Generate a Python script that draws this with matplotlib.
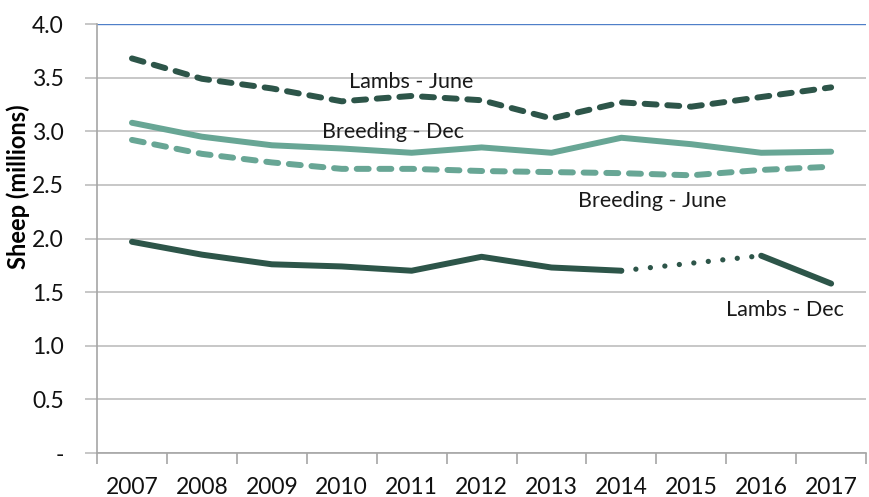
import numpy as np
import matplotlib
matplotlib.use("Agg")
import matplotlib.pyplot as plt
from matplotlib.ticker import FixedLocator, FuncFormatter

plt.rcParams['font.family'] = ['Lato', 'DejaVu Sans']

years = ['2007', '2008', '2009', '2010', '2011', '2012', '2013', '2014', '2015', '2016', '2017']
lambs_june = [3.68, 3.49, 3.40, 3.28, 3.33, 3.29, 3.12, 3.27, 3.23, 3.32, 3.41]
breeding_dec = [3.08, 2.95, 2.87, 2.84, 2.80, 2.85, 2.80, 2.94, 2.88, 2.80, 2.81]
breeding_june = [2.92, 2.79, 2.71, 2.65, 2.65, 2.63, 2.62, 2.61, 2.59, 2.64, 2.67]
lambs_dec = [1.97, 1.85, 1.76, 1.74, 1.70, 1.83, 1.73, 1.70, np.nan, 1.84, 1.58]

dark = '#2D5549'
light = '#68A695'

x = np.arange(len(years))
fig = plt.figure(figsize=(8.7, 4.97), dpi=100)
ax = fig.add_axes([0.1115, 0.0885, 0.884, 0.863])

lw = 4.3
dash = (2.0, 1.8)
ax.plot(x, lambs_june, color=dark, lw=lw, dashes=dash, dash_capstyle='round', dash_joinstyle='round')
ax.plot(x, breeding_dec, color=light, lw=lw, solid_capstyle='round', solid_joinstyle='round')
ax.plot(x, breeding_june, color=light, lw=lw, dashes=dash, dash_capstyle='round', dash_joinstyle='round')
ax.plot(x, lambs_dec, color=dark, lw=lw, solid_capstyle='round', solid_joinstyle='round')

# missing 2015 value for December lambs: bridge the gap with a dotted line
ld = np.array(lambs_dec)
gap = np.where(np.isnan(ld))[0]
for g in gap:
    ax.plot([x[g - 1], x[g + 1]], [ld[g - 1], ld[g + 1]], color=dark, lw=3.8,
            dashes=(0.01, 2.75), dash_capstyle='round')

ax.set_xlim(-0.5, len(years) - 0.5)
ax.set_ylim(0, 4.0)
yt = np.arange(0, 4.01, 0.5)
ax.set_yticks(yt)
ax.yaxis.set_major_formatter(FuncFormatter(lambda v, p: '-' if v == 0 else f'{v:.1f}'))
for v in yt[:-1]:
    ax.axhline(v, color='#BEBEBE', lw=1.2, zorder=0)
ax.axhline(4.0, color='#4F7FC8', lw=1.0, zorder=0)

ax.xaxis.set_major_locator(FixedLocator(np.arange(-0.5, len(years), 1.0)))
ax.xaxis.set_minor_locator(FixedLocator(x))
ax.set_xticklabels([], minor=False)
ax.set_xticklabels(years, minor=True)
ax.tick_params(axis='x', which='major', length=8, width=1.2, color='#A6A6A6')
ax.tick_params(axis='x', which='minor', length=0, pad=17, labelsize=16.5, labelcolor='#111111')
ax.tick_params(axis='y', length=9, width=1.2, color='#BEBEBE', pad=15, labelsize=16.5, labelcolor='#111111')

for side in ['top', 'right']:
    ax.spines[side].set_visible(False)
ax.spines['left'].set_color('#A6A6A6')
ax.spines['left'].set_linewidth(1.2)
ax.spines['bottom'].set_color('#A6A6A6')
ax.spines['bottom'].set_linewidth(1.2)

ax.set_ylabel('Sheep (millions)', fontsize=17, fontweight='bold', va='center')
ax.yaxis.set_label_coords(-0.103, 0.621)

lab = dict(fontsize=15.5, color='#1A1A1A', ha='center', va='center')
ax.text(4.0, 3.46, 'Lambs - June', **lab)
ax.text(3.74, 2.99, 'Breeding - Dec', **lab)
ax.text(7.44, 2.35, 'Breeding - June', **lab)
ax.text(9.34, 1.33, 'Lambs - Dec', **lab)

fig.savefig('out.png', dpi=100)
